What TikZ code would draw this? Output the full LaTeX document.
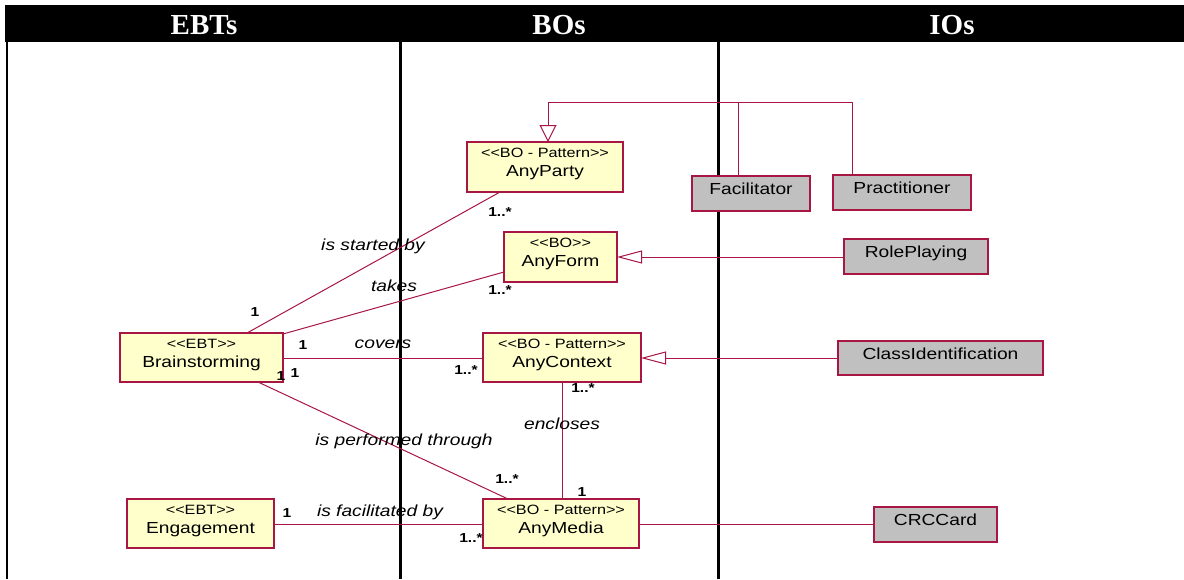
\documentclass[tikz,border=0pt]{standalone}
\usepackage{fontspec}
\usetikzlibrary{arrows.meta}
\newfontfamily\uml[FakeStretch=1.2]{Liberation Sans}
\newfontfamily\hdrfont{Liberation Serif}
\definecolor{umlred}{RGB}{168,22,68}
\definecolor{umlyellow}{RGB}{255,255,204}
\definecolor{umlgray}{RGB}{192,192,192}
\tikzset{
 ybox/.style={draw=umlred, fill=umlyellow, line width=1.3pt, inner sep=0pt, rectangle},
 gbox/.style={draw=umlred, fill=umlgray, line width=1.3pt, inner sep=0pt, rectangle},
 stereo/.style={font=\uml\fontsize{13.5}{13.5}\selectfont, inner sep=0pt},
 cname/.style={font=\uml\fontsize{16}{16}\selectfont, inner sep=0pt},
 mult/.style={font=\uml\bfseries\fontsize{13}{13}\selectfont, inner sep=0pt, anchor=base},
 rel/.style={font=\uml\itshape\fontsize{16}{16}\selectfont, inner sep=0pt, anchor=base},
 conn/.style={draw=umlred, line width=1pt},
 genarrow/.style={conn, -{Triangle[open, length=25pt, width=13pt, fill=white]}},
 genvert/.style={conn, -{Triangle[open, length=17pt, width=17pt, fill=white]}},
 hdr/.style={font=\hdrfont\bfseries\fontsize{29}{29}\selectfont, text=white, inner sep=0pt, anchor=base},
 divider/.style={line width=3pt, draw=black},
 border/.style={line width=2pt, draw=black},
}
\newcommand{\ybox}[7]{%
 \node[ybox, minimum width={#4-#2}, minimum height={#5-#3}] (#1) at ({(#2+#4)/2},{(#3+#5)/2}) {};
 \node[stereo, anchor=base] (#1-s) at ({(#2+#4)/2},{#3+15}) {#6};
 \node[cname, anchor=base] (#1-n) at ({(#2+#4)/2},{#3+34}) {#7};
}
\newcommand{\gbox}[6]{%
 \node[gbox, minimum width={#4-#2}, minimum height={#5-#3}] (#1) at ({(#2+#4)/2},{(#3+#5)/2}) {};
 \node[cname, anchor=base] (#1-n) at ({(#2+#4)/2},{#3+18}) {#6};
}
\begin{document}
\begin{tikzpicture}[x=1pt,y=-1pt]
\useasboundingbox (0,0) rectangle (1184,579);
% header
\fill[black] (5,5) rectangle (1184,42);
\node[hdr] (hEBT) at (204,34) {EBTs};
\node[hdr] (hBO) at (559,34) {BOs};
\node[hdr] (hIO) at (952,34) {IOs};
% swimlane lines
\draw[border] (7,42) -- (7,579);
\draw[divider] (400,42) -- (400,579);
\draw[divider] (718,42) -- (718,579);

% coordinates for connector ends
\coordinate (gen) at (548,102);

% connectors
\draw[conn] (247,333) coordinate (bs1) -- (500,192) coordinate (pb1);
\draw[conn] (283,334) coordinate (bt1) -- (504,272) coordinate (ft1);
\draw[conn] (283,358) coordinate (bc1) -- (483,358) coordinate (cc1);
\draw[conn] (258,382) coordinate (bp1) -- (508,499) coordinate (mp1);
\draw[conn] (562,382) coordinate (ce1) -- (562,499) coordinate (me1);
\draw[conn] (274,524) coordinate (ef1) -- (483,524) coordinate (mf1);
\draw[conn] (639,524) coordinate (mc1) -- (874,524) coordinate (cm1);
\draw[genarrow] (844,257) coordinate (rf1) -- (617,257) coordinate (fr1);
\draw[genarrow] (838,358) coordinate (cx1) -- (641,358) coordinate (xc1);
\draw[conn] (738,176) coordinate (fTop) |- (gen);
\draw[conn] (852,175) coordinate (pTop) |- (fTop |- gen);
\draw[genvert] (gen) -- (548,142) coordinate (partyTop);

% boxes
\ybox{party}{467}{142}{623}{192}{<<BO - Pattern>>}{AnyParty}
\ybox{form}{504}{232}{617}{282}{<<BO>>}{AnyForm}
\ybox{brain}{120}{333}{283}{382}{<<EBT>>}{Brainstorming}
\ybox{context}{483}{333}{641}{382}{<<BO - Pattern>>}{AnyContext}
\ybox{media}{483}{499}{639}{548}{<<BO - Pattern>>}{AnyMedia}
\ybox{engage}{127}{499}{274}{548}{<<EBT>>}{Engagement}
\gbox{facil}{692}{176}{810}{211}{Facilitator}
\gbox{pract}{833}{175}{971}{210}{Practitioner}
\gbox{role}{844}{239}{988}{274}{RolePlaying}
\gbox{classid}{838}{341}{1043}{375}{ClassIdentification}
\gbox{crc}{874}{507}{997}{542}{CRCCard}

% association labels
\node[rel] (lStarted) at (373,250) {is started by};
\node[rel] (lTakes) at (394,291) {takes};
\node[rel] (lCovers) at (383,348) {covers};
\node[rel] (lEncloses) at (562,429) {encloses};
\node[rel] (lPerformed) at (404,445) {is performed through};
\node[rel] (lFacil) at (380,516) {is facilitated by};

% multiplicities
\node[mult] (m1) at (255,316) {1};
\node[mult] (m2) at (500,216) {1..*};
\node[mult] (m3) at (303,349) {1};
\node[mult] (m4) at (281,380) {1};
\node[mult] (m5) at (295,377) {1};
\node[mult] (m6) at (500,294) {1..*};
\node[mult] (m7) at (466,374) {1..*};
\node[mult] (m8) at (583,392) {1..*};
\node[mult] (m9) at (507,483) {1..*};
\node[mult] (m10) at (582,496) {1};
\node[mult] (m11) at (287,517) {1};
\node[mult] (m12) at (471,542) {1..*};
\end{tikzpicture}
\end{document}
